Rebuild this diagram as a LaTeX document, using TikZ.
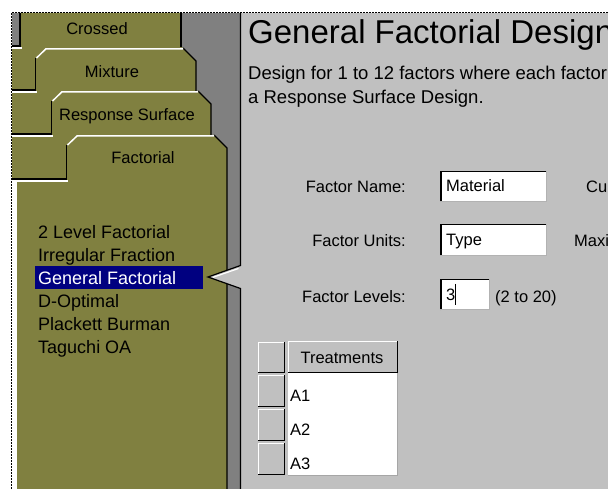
\documentclass[tikz,border=0pt]{standalone}
\usepackage{fontspec}
\setmainfont{Liberation Sans}
\definecolor{olivetab}{RGB}{128,128,64}
\definecolor{stripgray}{RGB}{128,128,128}
\definecolor{panegray}{RGB}{192,192,192}
\definecolor{selnavy}{RGB}{0,0,128}
\tikzset{
  edge/.style={black, line width=1.2pt},
  hl/.style={white, line width=1.5pt},
  tabtxt/.style={font=\fontsize{16.5}{18}\selectfont, inner sep=0, anchor=base},
  listtxt/.style={font=\fontsize{18}{20}\selectfont, inner sep=0, anchor=base west},
  formtxt/.style={font=\fontsize{16.5}{18}\selectfont, inner sep=0},
  desctxt/.style={font=\fontsize{18.5}{20}\selectfont, inner sep=0, anchor=base west},
}
\begin{document}
\begin{tikzpicture}[x=1pt,y=-1pt,line join=miter]
\useasboundingbox (0,0) rectangle (608,489);
\clip (0,0) rectangle (608,489);
\fill[white] (0,0) rectangle (608,489);
% backgrounds
\fill[stripgray] (12,13) rectangle (240,489);
\fill[white] (12,180) rectangle (15,489);
\fill[panegray] (241,13) rectangle (608,489);
% olive tab area
\fill[olivetab] (20,13) -- (181,13) -- (181,47) -- (183,48) -- (196,61) -- (196,91)
  -- (198,91) -- (211,104) -- (211,135) -- (214,135) -- (227,148) -- (227,489)
  -- (15,489) -- (15,180) -- (12,180) -- (12,47) -- (20,47) -- cycle;
% dark edges
\draw[edge] (181,13) -- (181,47);
\draw[edge] (183,48) -- (196,61) -- (196,91);
\draw[edge] (198,91) -- (211,104) -- (211,135);
\draw[edge] (214,135) -- (227,148) -- (227,489);
\draw[edge] (20,13) -- (20,46) -- (12,46);
\draw[edge] (35.5,58) -- (35.5,90) -- (12,90);
\draw[edge] (51.5,101) -- (51.5,134) -- (12,134);
\draw[edge] (66.5,145) -- (66.5,179) -- (12,179);
% highlights
\draw[hl] (12,47.8) -- (22,47.8);
\draw[hl] (36.5,58) -- (46,48.8) -- (183,48.8);
\draw[hl] (12,91.8) -- (37,91.8);
\draw[hl] (52.5,101) -- (62,91.8) -- (198,91.8);
\draw[hl] (12,135.8) -- (53,135.8);
\draw[hl] (67.5,145) -- (77,136) -- (214,136);
\draw[hl] (15,181) -- (68,181);
\draw[hl] (15.8,181) -- (15.8,489);
% tab labels
\node[tabtxt] (tcrossed) at (97,35) {Crossed};
\node[tabtxt] (tmixture) at (112,78) {Mixture};
\node[tabtxt] (tresponse) at (127,121) {Response Surface};
\node[tabtxt] (tfactorial) at (143,164) {Factorial};
% list
\fill[selnavy] (35,266) rectangle (203,289);
\node[listtxt] (l1) at (38,238.5) {2 Level Factorial};
\node[listtxt] (l2) at (38,261.5) {Irregular Fraction};
\node[listtxt, text=white] (l3) at (38,284.5) {General Factorial};
\node[listtxt] (l4) at (38,307.5) {D-Optimal};
\node[listtxt] (l5) at (38,330.5) {Plackett Burman};
\node[listtxt] (l6) at (38,353.5) {Taguchi OA};
% pointer and pane border
\fill[panegray] (241,265.5) -- (208,277) -- (241,288.5) -- cycle;
\draw[edge] (240.5,13) -- (240.5,265.5) -- (208,277) -- (240.5,288.5) -- (240.5,489);
\draw[white, line width=1.2pt] (238.5,268.5) -- (213,277.3);
% title and description
\node[font=\fontsize{33}{36}\selectfont, inner sep=0, anchor=base west] (title) at (248,43.5) {General Factorial Design};
\node[desctxt] (desc1) at (248,80) {Design for 1 to 12 factors where each factor};
\node[desctxt] (desc2) at (248,104) {a Response Surface Design.};
% form labels
\node[formtxt, anchor=base east] (fname) at (406,193) {Factor Name:};
\node[formtxt, anchor=base east] (funits) at (406,247) {Factor Units:};
\node[formtxt, anchor=base east] (flevels) at (406,302) {Factor Levels:};
% input boxes
\foreach \xa/\ya/\xb/\yb in {440/171/547/202, 440/224/547/256, 440/279/490/310}{
  \fill[white] (\xa,\ya) rectangle (\xb,\yb);
  \draw[black, line width=1.5pt] (\xa+0.75,\yb) -- (\xa+0.75,\ya+0.75) -- (\xb,\ya+0.75);
  \draw[black!30, line width=0.8pt] (\xa,\yb-0.4) -- (\xb-0.4,\yb-0.4) -- (\xb-0.4,\ya);
}
\node[formtxt, anchor=base west] (vname) at (446,192) {Material};
\node[formtxt, anchor=base west] (vunits) at (446,246) {Type};
\node[formtxt, anchor=base west] (vlevels) at (446,301) {3};
\draw[black, line width=1pt] (455.5,284) -- (455.5,305);
\node[formtxt, anchor=base west] (range) at (495,302) {(2 to 20)};
\node[formtxt, anchor=base west] (cur) at (586,193) {Cur};
\node[formtxt, anchor=base west] (maxi) at (574,247) {Maxi};
% table
\fill[white] (288,373) rectangle (398,475);
\draw[black!35, line width=0.8pt] (397.6,373) -- (397.6,475.4) -- (288,475.4);
\foreach \xa/\ya/\xb/\yb in {258/342/285/373, 288/341/398/373, 258/375/285/407, 258/409/285/441, 258/443/285/475}{
  \fill[panegray] (\xa,\ya) rectangle (\xb,\yb);
  \draw[white, line width=1.2pt] (\xa+0.6,\yb) -- (\xa+0.6,\ya+0.6) -- (\xb,\ya+0.6);
  \draw[black, line width=1.4pt] (\xa,\yb-0.7) -- (\xb-0.7,\yb-0.7) -- (\xb-0.7,\ya);
}
\node[formtxt, anchor=base] (thead) at (342,363) {Treatments};
\node[formtxt, anchor=base west] (a1) at (290,401) {A1};
\node[formtxt, anchor=base west] (a2) at (290,435) {A2};
\node[formtxt, anchor=base west] (a3) at (290,469) {A3};
% dashed focus border
\draw[black, line width=1pt, dash pattern=on 2pt off 1pt] (11.5,489) -- (11.5,12.5) -- (608,12.5);
\end{tikzpicture}
\end{document}
